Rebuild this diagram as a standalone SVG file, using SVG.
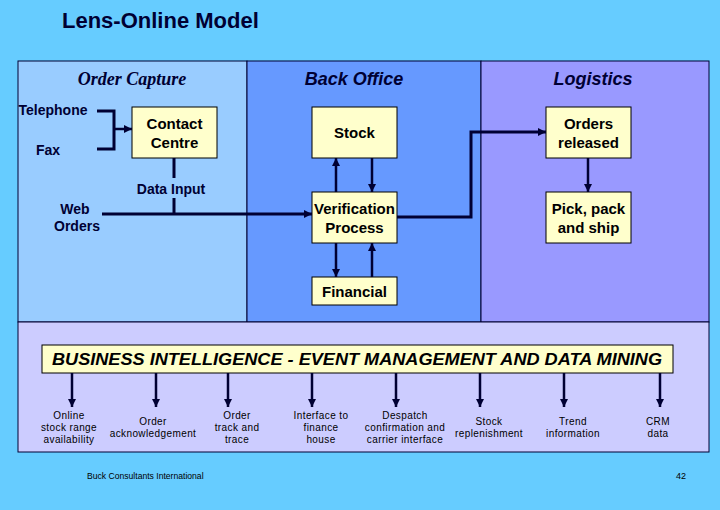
<svg xmlns="http://www.w3.org/2000/svg" width="720" height="510" viewBox="0 0 720 510">
<defs>
<style>
.panel{stroke:#000033;stroke-width:1}
.box{fill:#FFFFCC;stroke:#000000;stroke-width:1}
.bt{font-family:"Liberation Sans",Arial,sans-serif;font-weight:bold;font-size:15px;fill:#000000;text-anchor:middle}
.hd{font-family:"Liberation Sans",Arial,sans-serif;font-weight:bold;font-style:italic;font-size:18px;fill:#000033;text-anchor:middle}
.lb{font-family:"Liberation Sans",Arial,sans-serif;font-weight:bold;font-size:14px;fill:#000033;text-anchor:middle}
.sm{font-family:"Liberation Sans",Arial,sans-serif;font-size:10px;fill:#000000;text-anchor:middle;letter-spacing:0.4px}
.ln{fill:none;stroke:#000033;stroke-width:3}
.ar{fill:none;stroke:#000033;stroke-width:2.5}
</style>
<marker id="ah" viewBox="0 0 10 10" refX="10" refY="5" markerWidth="8" markerHeight="8" markerUnits="userSpaceOnUse" orient="auto">
<path d="M0,0 L10,5 L0,10 Z" fill="#000033"/>
</marker>
</defs>
<rect x="0" y="0" width="720" height="510" fill="#66CCFF"/>
<text x="62" y="28" font-family="'Liberation Sans',Arial,sans-serif" font-weight="bold" font-size="22" fill="#000033">Lens-Online Model</text>

<g id="panels">
<rect class="panel" x="18" y="61" width="229" height="261" fill="#99CCFF"/>
<rect class="panel" x="247" y="61" width="234" height="261" fill="#6699FF"/>
<rect class="panel" x="481" y="61" width="228" height="261" fill="#9999FF"/>
<rect class="panel" x="18" y="322" width="691" height="130" fill="#CCCCFF"/>
<text x="132" y="85" font-family="'Liberation Serif','Times New Roman',serif" font-weight="bold" font-style="italic" font-size="18" fill="#000033" text-anchor="middle">Order Capture</text>
<text class="hd" x="354" y="85">Back Office</text>
<text class="hd" x="593" y="85">Logistics</text>
</g>

<g id="telephone"><text class="lb" x="53" y="115">Telephone</text></g>
<g id="fax"><text class="lb" x="48" y="155">Fax</text></g>
<g id="web-orders"><text class="lb" x="75" y="214">Web</text><text class="lb" x="77" y="231">Orders</text></g>

<g id="contact-centre">
<rect class="box" x="132" y="107" width="85" height="51"/>
<text class="bt" x="174.5" y="129">Contact</text>
<text class="bt" x="174.5" y="148">Centre</text>
</g>
<g id="stock">
<rect class="box" x="312" y="107" width="85" height="51"/>
<text class="bt" x="354.5" y="138">Stock</text>
</g>
<g id="verification">
<rect class="box" x="312" y="192" width="85" height="51"/>
<text class="bt" x="354.5" y="214">Verification</text>
<text class="bt" x="354.5" y="233">Process</text>
</g>
<g id="financial">
<rect class="box" x="312" y="277" width="85" height="28"/>
<text class="bt" x="354.5" y="297">Financial</text>
</g>
<g id="orders-released">
<rect class="box" x="546" y="107" width="85" height="51"/>
<text class="bt" x="588.5" y="129">Orders</text>
<text class="bt" x="588.5" y="148">released</text>
</g>
<g id="pick-pack">
<rect class="box" x="546" y="192" width="85" height="51"/>
<text class="bt" x="588.5" y="214">Pick, pack</text>
<text class="bt" x="588.5" y="233">and ship</text>
</g>
<g id="bi">
<rect class="box" x="42" y="345" width="631" height="28"/>
<text x="357" y="365" font-family="'Liberation Sans',Arial,sans-serif" font-weight="bold" font-style="italic" font-size="17" fill="#000000" text-anchor="middle" textLength="610" lengthAdjust="spacingAndGlyphs">BUSINESS INTELLIGENCE - EVENT MANAGEMENT AND DATA MINING</text>
</g>

<g id="outputs">
<text class="sm" x="69" y="419">Online</text><text class="sm" x="69" y="431">stock range</text><text class="sm" x="69" y="443">availability</text>
<text class="sm" x="153" y="425">Order</text><text class="sm" x="153" y="437">acknowledgement</text>
<text class="sm" x="237" y="419">Order</text><text class="sm" x="237" y="431">track and</text><text class="sm" x="237" y="443">trace</text>
<text class="sm" x="321" y="419">Interface to</text><text class="sm" x="321" y="431">finance</text><text class="sm" x="321" y="443">house</text>
<text class="sm" x="405" y="419">Despatch</text><text class="sm" x="405" y="431">confirmation and</text><text class="sm" x="405" y="443">carrier interface</text>
<text class="sm" x="489" y="425">Stock</text><text class="sm" x="489" y="437">replenishment</text>
<text class="sm" x="573" y="425">Trend</text><text class="sm" x="573" y="437">information</text>
<text class="sm" x="658" y="425">CRM</text><text class="sm" x="658" y="437">data</text>
</g>

<g id="data-input"><text class="lb" x="171" y="194">Data Input</text></g>

<g id="connectors">
<path class="ln" d="M97,111 H114 V149 H97"/>
<path class="ar" d="M114,129 H132" marker-end="url(#ah)"/>
<path class="ln" d="M174,158 V178"/>
<path class="ln" d="M174,198 V214"/>
<path class="ar" d="M102,214 H312" marker-end="url(#ah)" style="stroke-width:3"/>
<path class="ar" d="M336,192 V158" marker-end="url(#ah)"/>
<path class="ar" d="M372,158 V192" marker-end="url(#ah)"/>
<path class="ar" d="M336,243 V277" marker-end="url(#ah)"/>
<path class="ar" d="M372,277 V243" marker-end="url(#ah)"/>
<path class="ar" d="M397,217 H471 V132 H546" marker-end="url(#ah)" style="stroke-width:3"/>
<path class="ar" d="M588,158 V192" marker-end="url(#ah)"/>
<path class="ar" d="M72,373 V407" marker-end="url(#ah)"/>
<path class="ar" d="M156,373 V407" marker-end="url(#ah)"/>
<path class="ar" d="M228,373 V407" marker-end="url(#ah)"/>
<path class="ar" d="M312,373 V407" marker-end="url(#ah)"/>
<path class="ar" d="M396,373 V407" marker-end="url(#ah)"/>
<path class="ar" d="M480,373 V407" marker-end="url(#ah)"/>
<path class="ar" d="M564,373 V407" marker-end="url(#ah)"/>
<path class="ar" d="M660,373 V407" marker-end="url(#ah)"/>
</g>

<text x="87" y="479" font-family="'Liberation Sans',Arial,sans-serif" font-size="8.6" fill="#000000">Buck Consultants International</text>
<text x="681" y="479" font-family="'Liberation Sans',Arial,sans-serif" font-size="9" fill="#000000" text-anchor="middle">42</text>
</svg>
